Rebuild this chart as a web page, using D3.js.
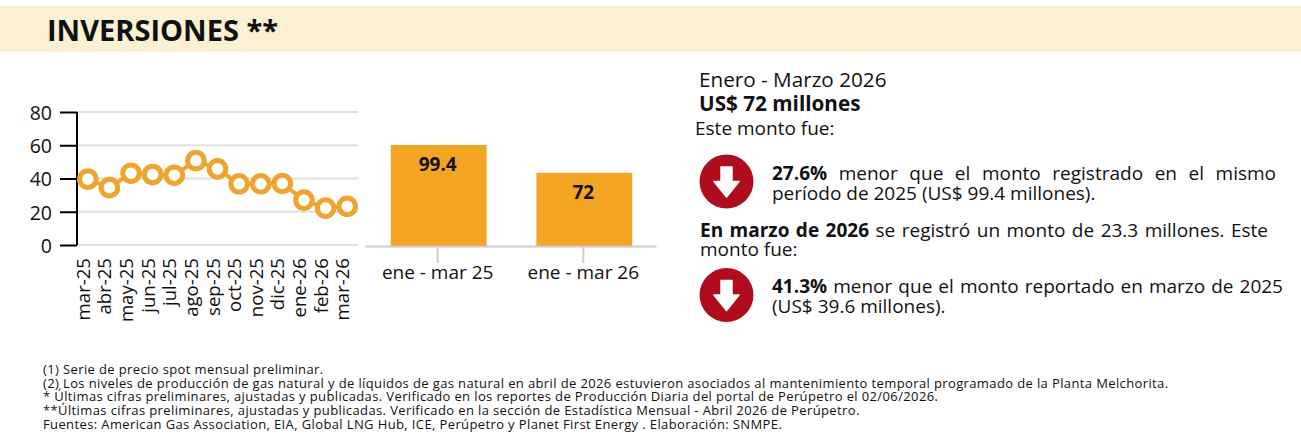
<!DOCTYPE html>
<html lang="es">
<head>
<meta charset="utf-8">
<script src="https://cdn.jsdelivr.net/npm/d3@7/dist/d3.min.js"></script>
<style>
  html, body { margin: 0; padding: 0; background: #fff; }
  svg { display: block; font-family: "Open Sans", sans-serif; fill: #111; }
  .tick text { fill: #111; }
</style>
</head>
<body>
<svg id="chart" width="1301" height="439"></svg>
<script>
// Inversión mensual (millones de US$)
const months = ["mar-25","abr-25","may-25","jun-25","jul-25","ago-25","sep-25","oct-25","nov-25","dic-25","ene-26","feb-26","mar-26"];
const monthlyValues = [39.6, 34.5, 43.2, 42.4, 42, 50.8, 45.8, 36.8, 36.8, 37, 27, 22.2, 23.3];
const yTicks = [0, 20, 40, 60, 80];

// Acumulado enero - marzo
const periods = ["ene - mar 25", "ene - mar 26"];
const periodValues = [99.4, 72];

const footnotes = [
  "(1) Serie de precio spot mensual preliminar.",
  "(2) Los niveles de producción de gas natural y de líquidos de gas natural en abril de 2026 estuvieron asociados al mantenimiento temporal programado de la Planta Melchorita.",
  "* Últimas cifras preliminares, ajustadas y publicadas. Verificado en los reportes de Producción Diaria del portal de Perúpetro el 02/06/2026.",
  "**Últimas cifras preliminares, ajustadas y publicadas. Verificado en la sección de Estadística Mensual - Abril 2026 de Perúpetro.",
  "Fuentes: American Gas Association, EIA, Global LNG Hub, ICE, Perúpetro y Planet First Energy . Elaboración: SNMPE."
];
const footnoteBaselines = [374, 388, 401, 415, 429];

const ORANGE_LINE = "#EFA42F", ORANGE_BAR = "#F5A524", RED = "#AF0D1D";
const svg = d3.select("#chart");

// Banda del título
svg.append("rect").attr("x", 0).attr("y", 6).attr("width", 1301).attr("height", 46).attr("fill", "#FAF0D2");
svg.append("text").attr("x", 47).attr("y", 41).attr("font-size", 29).attr("font-weight", 700)
  .attr("fill", "#111").text("INVERSIONES **");

// Serie mensual
const xLine = d3.scaleBand().domain(months).range([77, 358]);
const yLine = d3.scaleLinear().domain([0, 80]).range([245, 112]);

svg.append("g").selectAll("line").data(yTicks).join("line")
  .attr("x1", 77).attr("x2", 358)
  .attr("y1", d => yLine(d)).attr("y2", d => yLine(d))
  .attr("stroke", "#E0E0E0").attr("stroke-width", 2);

const axisY = svg.append("g").attr("transform", "translate(77,0)")
  .call(d3.axisLeft(yLine).tickValues(yTicks).tickSize(17).tickPadding(8));
axisY.selectAll("line,path").attr("stroke", "#000").attr("stroke-width", 2);
axisY.select(".domain").attr("d", `M0,${yLine(80)}V${yLine(0)}`);
axisY.selectAll("text").attr("font-size", 19.5).attr("font-family", "Open Sans").attr("y", 1);

const axisX = svg.append("g").attr("transform", "translate(0,245)")
  .call(d3.axisBottom(xLine).tickSize(0));
axisX.select(".domain").remove();
axisX.selectAll("text")
  .attr("font-size", 18.6).attr("font-family", "Open Sans")
  .attr("text-anchor", "end").attr("dy", null).attr("dominant-baseline", "central")
  .attr("transform", "translate(-5.5,13) rotate(-90)")
  .attr("x", 0).attr("y", 0);

const cx = d => xLine(d) + xLine.bandwidth() / 2;
svg.append("path")
  .attr("d", d3.line().x((d, i) => cx(months[i])).y(d => yLine(d))(monthlyValues))
  .attr("fill", "none").attr("stroke", ORANGE_LINE).attr("stroke-width", 4);
svg.append("g").selectAll("circle").data(monthlyValues).join("circle")
  .attr("cx", (d, i) => cx(months[i])).attr("cy", d => yLine(d))
  .attr("r", 8.3).attr("fill", "#fff")
  .attr("stroke", ORANGE_LINE).attr("stroke-width", 5);

// Acumulado por periodo
const xBar = d3.scaleBand().domain(periods).range([366, 657]).paddingInner(0.342).paddingOuter(0.17);
const yBar = d3.scaleLinear().domain([0, 99.4]).range([246, 145]);

svg.append("g").selectAll("rect").data(periodValues).join("rect")
  .attr("x", (d, i) => xBar(periods[i])).attr("width", xBar.bandwidth())
  .attr("y", d => yBar(d)).attr("height", d => yBar(0) - yBar(d))
  .attr("fill", ORANGE_BAR);

const axisBar = svg.append("g").attr("transform", "translate(-1,246)")
  .call(d3.axisBottom(xBar).tickSize(17).tickSizeOuter(0).tickPadding(3));
axisBar.selectAll("line,path").attr("stroke", "#CCCCCC").attr("stroke-width", 2);
axisBar.selectAll("text").attr("font-size", 19).attr("font-family", "Open Sans");

svg.append("g").selectAll("text").data(periodValues).join("text")
  .attr("x", (d, i) => xBar(periods[i]) + xBar.bandwidth() / 2 - 1)
  .attr("y", d => yBar(d) + 26)
  .attr("text-anchor", "middle").attr("font-size", 19).attr("font-weight", 700).attr("fill", "#111")
  .text(d => d);

// Bloque de texto
function textLine(x, y, size, runs, right) {
  const t = svg.append("text").attr("x", x).attr("y", y).attr("font-size", size).attr("fill", "#111");
  runs.forEach(r => t.append("tspan").attr("font-weight", r.b ? 700 : 400).text(r.t));
  if (right) {
    const gaps = runs.map(r => r.t).join("").split(" ").length - 1;
    const extra = (right - x - t.node().getComputedTextLength()) / gaps;
    t.attr("word-spacing", extra);
  }
  return t;
}
textLine(699, 87, 20.7, [{ t: "Enero - Marzo 2026" }]);
textLine(699, 111, 20.7, [{ t: "US$ 72 millones", b: 1 }]);
textLine(695, 135, 19, [{ t: "Este monto fue:" }]);
textLine(772, 179.5, 19, [{ t: "27.6%", b: 1 }, { t: " menor que el monto registrado en el mismo" }], 1276);
textLine(772, 200, 19, [{ t: "período de 2025 (US$ 99.4 millones)." }]);
textLine(700, 236.5, 19, [{ t: "En marzo de 2026", b: 1 }, { t: " se registró un monto de 23.3 millones. Este" }], 1268);
textLine(700, 256, 19, [{ t: "monto fue:" }]);
textLine(772, 292.5, 19, [{ t: "41.3%", b: 1 }, { t: " menor que el monto reportado en marzo de 2025" }], 1283);
textLine(772, 313, 19, [{ t: "(US$ 39.6 millones)." }]);

// Indicadores de caída
[181.5, 295].forEach(cy => {
  const g = svg.append("g").attr("transform", `translate(726.5,${cy})`);
  g.append("circle").attr("r", 27).attr("fill", RED);
  g.append("path").attr("fill", "#fff").attr("stroke", "#fff").attr("stroke-width", 1.5).attr("stroke-linejoin", "round")
    .attr("d", "M-5.5,-14.5H5.5V0H12.5L0,15.5L-12.5,0H-5.5Z");
});

// Notas al pie
svg.append("g").selectAll("text").data(footnotes).join("text")
  .attr("x", 43).attr("y", (d, i) => footnoteBaselines[i])
  .attr("font-size", 13).attr("letter-spacing", 0.38).attr("fill", "#111").text(d => d);
</script>
</body>
</html>
